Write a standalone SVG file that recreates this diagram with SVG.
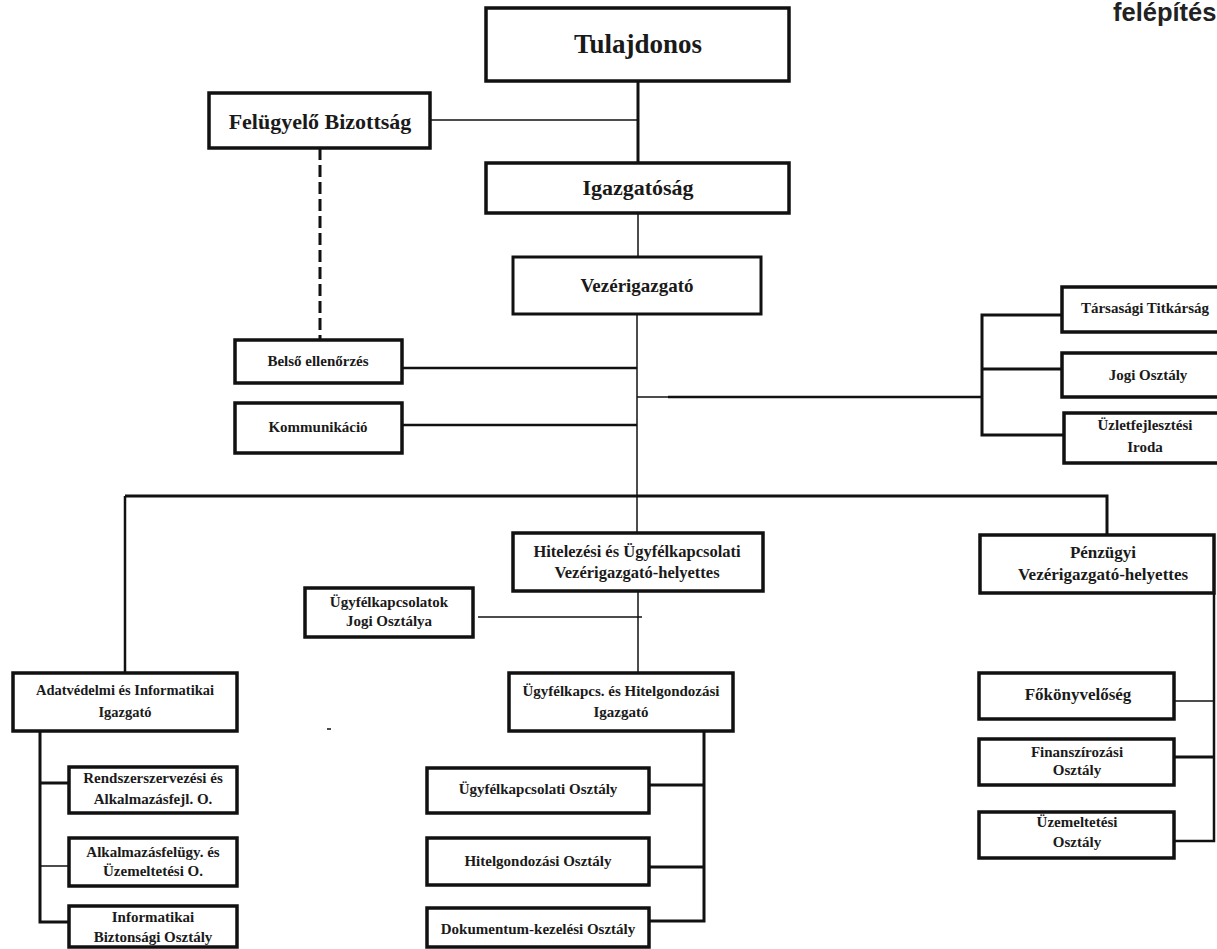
<svg xmlns="http://www.w3.org/2000/svg" width="1217" height="949" viewBox="0 0 1217 949">
<style>
.box{fill:#fff;stroke:#111;stroke-width:3.5}
.t{font-family:"Liberation Serif","Times New Roman",serif;font-weight:bold;fill:#1a1a1a;text-anchor:middle}
.s15{font-size:15px}
.s17{font-size:17px}
.c{fill:none;stroke:#111}
.thin{stroke-width:1.5}
.mid{stroke-width:2.5}
.thick{stroke-width:3}
</style>
<rect width="1217" height="949" fill="#fff"/>
<text x="1113" y="21" style="font-family:'Liberation Sans',Arial,sans-serif;font-weight:bold;font-size:25.5px;fill:#222">felépítés</text>
<g id="connectors">
<path class="c thick" d="M638,81 V163"/>
<path class="c thin" d="M430,120 H638"/>
<path class="c thick" stroke-dasharray="12 5" d="M320,148 V340"/>
<path class="c thin" d="M638,213 V257"/>
<path class="c thin" d="M637,314 V533"/>
<path class="c mid" d="M402,368 H637"/>
<path class="c mid" d="M402,425 H637"/>
<path class="c thin" d="M637,397 H668"/>
<path class="c mid" d="M668,397 H982"/>
<path class="c thick" d="M1062,315 H982 V435 H1064"/>
<path class="c thick" d="M982,369 H1062"/>
<path class="c thick" d="M125,496 H1107 V535"/>
<path class="c mid" d="M125,496 V673"/>
<path class="c thin" d="M638,591 V673"/>
<path class="c thin" d="M478,617 H642"/>
<path class="c thick" d="M40,731 V922 H69"/>
<path class="c thick" d="M40,783 H69"/>
<path class="c thin" d="M40,866 H69"/>
<path class="c thick" d="M704,731 V921 H649"/>
<path class="c thick" d="M649,785 H704"/>
<path class="c thick" d="M649,867 H704"/>
<path class="c mid" d="M1214,593 V841 H1174"/>
<path class="c thin" d="M1174,701 H1214"/>
<path class="c thick" d="M1174,757 H1214"/>
</g>
<line x1="327" y1="729" x2="331" y2="729" stroke="#111" stroke-width="1.5"/>
<g id="tulajdonos"><rect class="box" x="486" y="8" width="303" height="73"/><text class="t" x="638" y="53" style="font-size:27px">Tulajdonos</text></g>
<g id="felugyelo-bizottsag"><rect class="box" x="209" y="93" width="221" height="55"/><text class="t" x="320" y="129" style="font-size:22px">Felügyelő Bizottság</text></g>
<g id="igazgatosag"><rect class="box" x="486" y="163" width="303" height="50"/><text class="t" x="638" y="195" style="font-size:22px">Igazgatóság</text></g>
<g id="vezerigazgato"><rect class="box" x="513" y="257" width="248" height="57" style="stroke-width:3"/><text class="t" x="637" y="292" style="font-size:19px">Vezérigazgató</text></g>
<g id="belso-ellenorzes"><rect class="box" x="235" y="340" width="167" height="43"/><text class="t s15" x="318" y="366">Belső ellenőrzés</text></g>
<g id="kommunikacio"><rect class="box" x="235" y="403" width="167" height="50"/><text class="t s15" x="318" y="432">Kommunikáció</text></g>
<g id="tarsasagi-titkarsag"><rect class="box" x="1062" y="287" width="168" height="45"/><text class="t s15" x="1145" y="313">Társasági Titkárság</text></g>
<g id="jogi-osztaly"><rect class="box" x="1062" y="353" width="168" height="44"/><text class="t s15" x="1148" y="380">Jogi Osztály</text></g>
<g id="uzletfejlesztesi-iroda"><rect class="box" x="1064" y="413" width="168" height="50"/><text class="t s15" x="1145" y="430">Üzletfejlesztési</text><text class="t s15" x="1145" y="452">Iroda</text></g>
<g id="hitelezesi-vh"><rect class="box" x="513" y="533" width="250" height="58"/><text class="t" x="637" y="557" style="font-size:16.5px">Hitelezési és Ügyfélkapcsolati</text><text class="t" x="637" y="578" style="font-size:16.5px">Vezérigazgató-helyettes</text></g>
<g id="penzugyi-vh"><rect class="box" x="980" y="535" width="234" height="58"/><text class="t s17" x="1103" y="558">Pénzügyi</text><text class="t s17" x="1103" y="580">Vezérigazgató-helyettes</text></g>
<g id="ugyfelkapcsolatok-jogi"><rect class="box" x="305" y="588" width="168" height="49"/><text class="t s15" x="389" y="607">Ügyfélkapcsolatok</text><text class="t s15" x="389" y="626">Jogi Osztálya</text></g>
<g id="adatvedelmi-igazgato"><rect class="box" x="13" y="673" width="224" height="58"/><text class="t" x="125" y="695" style="font-size:14.5px">Adatvédelmi és Informatikai</text><text class="t" x="125" y="717" style="font-size:14.5px">Igazgató</text></g>
<g id="ugyfelkapcs-igazgato"><rect class="box" x="509" y="673" width="224" height="58"/><text class="t s15" x="621" y="696">Ügyfélkapcs. és Hitelgondozási</text><text class="t s15" x="621" y="717">Igazgató</text></g>
<g id="fokonyveloseg"><rect class="box" x="979" y="673" width="195" height="46"/><text class="t s17" x="1078" y="700">Főkönyvelőség</text></g>
<g id="finanszirozasi-osztaly"><rect class="box" x="979" y="739" width="195" height="46"/><text class="t s15" x="1077" y="757">Finanszírozási</text><text class="t s15" x="1077" y="775">Osztály</text></g>
<g id="uzemeltetesi-osztaly"><rect class="box" x="979" y="812" width="195" height="46"/><text class="t s15" x="1077" y="827">Üzemeltetési</text><text class="t s15" x="1077" y="847">Osztály</text></g>
<g id="rendszerszervezesi"><rect class="box" x="69" y="767" width="168" height="46"/><text class="t s15" x="153" y="783">Rendszerszervezési és</text><text class="t s15" x="153" y="804">Alkalmazásfejl. O.</text></g>
<g id="alkalmazasfelugy"><rect class="box" x="69" y="838" width="168" height="48"/><text class="t s15" x="153" y="857">Alkalmazásfelügy. és</text><text class="t s15" x="153" y="876">Üzemeltetési O.</text></g>
<g id="informatikai-biztonsagi"><rect class="box" x="69" y="906" width="168" height="41"/><text class="t s15" x="153" y="922">Informatikai</text><text class="t s15" x="153" y="942">Biztonsági Osztály</text></g>
<g id="ugyfelkapcsolati-osztaly"><rect class="box" x="427" y="768" width="222" height="45"/><text class="t s15" x="538" y="794">Ügyfélkapcsolati Osztály</text></g>
<g id="hitelgondozasi-osztaly"><rect class="box" x="427" y="838" width="222" height="47"/><text class="t s15" x="538" y="866">Hitelgondozási Osztály</text></g>
<g id="dokumentum-kezelesi"><rect class="box" x="427" y="908" width="222" height="39"/><text class="t s15" x="538" y="934">Dokumentum-kezelési Osztály</text></g>
</svg>
